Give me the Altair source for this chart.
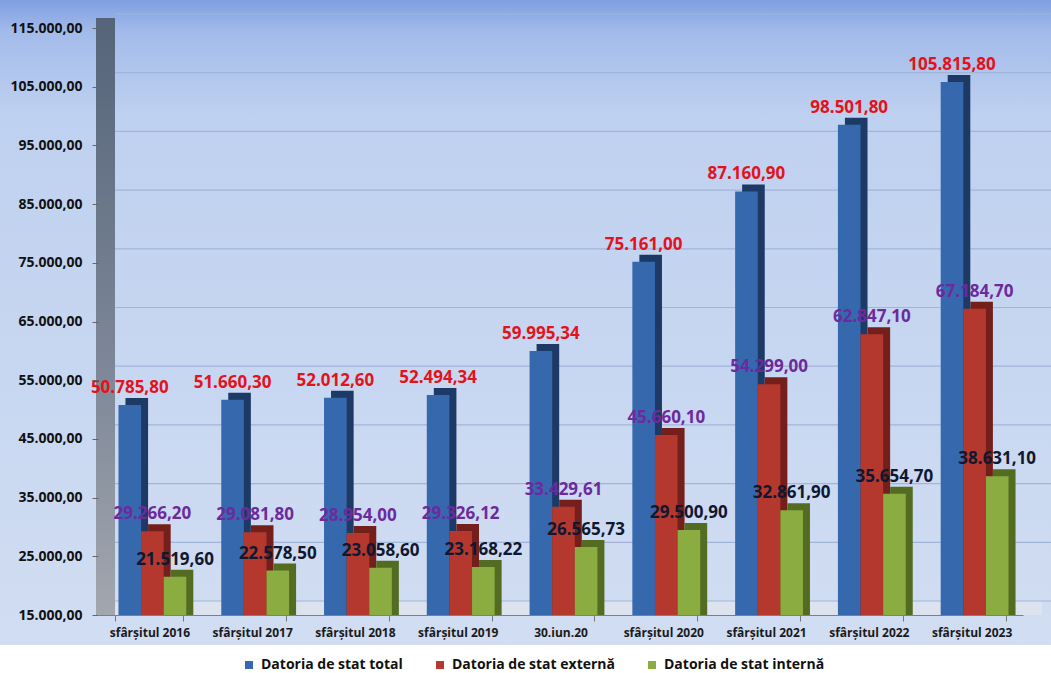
import altair as alt
import pandas as pd

# ---------------- data ----------------
categories = ["sfârșitul 2016", "sfârșitul 2017", "sfârșitul 2018", "sfârșitul 2019",
              "30.iun.20", "sfârșitul 2020", "sfârșitul 2021", "sfârșitul 2022", "sfârșitul 2023"]
series_names = ["Datoria de stat total", "Datoria de stat externă", "Datoria de stat internă"]
total = [50785.80, 51660.30, 52012.60, 52494.34, 59995.34, 75161.00, 87160.90, 98501.80, 105815.80]
external = [29266.20, 29081.80, 28954.00, 29326.12, 33429.61, 45660.10, 54299.00, 62847.10, 67184.70]
internal = [21519.60, 22578.50, 23058.60, 23168.22, 26565.73, 29500.90, 32861.90, 35654.70, 38631.10]
y_ticks = [15000, 25000, 35000, 45000, 55000, 65000, 75000, 85000, 95000, 105000, 115000]

# ---------------- style ----------------
front_colors = ["#3668ae", "#b5382f", "#8aac40"]
side_colors = ["#1d3a66", "#741f1b", "#536c21"]
label_colors = ["#e3121b", "#6d2a9e", "#0f1830"]
FONT = "Open Sans"

W, H = 925, 587
PL, PT, PR, PB = 98, 28, 28, 58
PAD_IN, PAD_OUT = 0.34, 0.17
DEPTH = 7
SHIFT = 3

rows = []
for i, c in enumerate(categories):
    for s, vals in zip(series_names, [total, external, internal]):
        rows.append({"cat": c, "series": s, "value": vals[i]})
df = pd.DataFrame(rows)
one = pd.DataFrame({"k": [0]})
ticks_df = pd.DataFrame({"v": y_ticks})

step = W / (len(categories) - PAD_IN + 2 * PAD_OUT)
band = step * (1 - PAD_IN)

x_scale = alt.Scale(type="band", domain=categories, paddingInner=PAD_IN, paddingOuter=PAD_OUT)
y_scale = alt.Scale(domain=[15000, 115000], zero=False, nice=False)
front_off = alt.Scale(type="band", domain=series_names, range=[SHIFT, SHIFT + band],
                      paddingInner=0, paddingOuter=0)
side_off = alt.Scale(type="band", domain=series_names, range=[SHIFT + DEPTH, SHIFT + DEPTH + band],
                     paddingInner=0, paddingOuter=0)

x_axis = alt.Axis(title=None, labelAngle=0, labelFont=FONT, labelFontSize=12, labelFontWeight="bold",
                  labelColor="#1a1a1a", tickBand="extent", tickSize=6, tickColor="#777777",
                  domainColor="#7f7f7f", labelPadding=6, grid=False, zindex=2)
y_axis = alt.Axis(title=None, values=y_ticks, format=",.2f", labelFont=FONT, labelFontSize=14,
                  labelFontWeight="bold", labelColor="#111111", tickSize=6, tickColor="#666666",
                  domain=False, grid=False, labelPadding=10, zindex=2)

# every layer carries the same axis definition, so the shared axes merge cleanly
x_enc = alt.X("cat:N", scale=x_scale, axis=x_axis)
y_enc = alt.Y("value:Q", scale=y_scale, axis=y_axis)
y_tick_enc = alt.Y("v:Q", scale=y_scale, axis=y_axis)

bg_grad = alt.LinearGradient(gradient="linear", x1=0, x2=0, y1=0, y2=1, stops=[
    alt.GradientStop(offset=0, color="#7f9fe0"),
    alt.GradientStop(offset=0.05, color="#a3bbea"),
    alt.GradientStop(offset=0.18, color="#bfd1f0"),
    alt.GradientStop(offset=1, color="#d1ddf2"),
])
wall_grad = alt.LinearGradient(gradient="linear", x1=0, x2=0, y1=0, y2=1, stops=[
    alt.GradientStop(offset=0, color="#55647a"),
    alt.GradientStop(offset=0.6, color="#7e8898"),
    alt.GradientStop(offset=1, color="#a2a7af"),
])

bg = alt.Chart(one).mark_rect(color=bg_grad).encode(
    x=alt.value(-PL), x2=alt.value(W + PR), y=alt.value(-PT), y2=alt.value(H + 30))
floor = alt.Chart(one).mark_rect(color="#dde3ee").encode(
    x=alt.value(-2), x2=alt.value(W + 19), y=alt.value(H - 14), y2=alt.value(H))
wall = alt.Chart(one).mark_rect(color=wall_grad).encode(
    x=alt.value(-2), x2=alt.value(17), y=alt.value(-10), y2=alt.value(H))

grid = alt.Chart(ticks_df).mark_rule(color="#a2b5d8", strokeWidth=1.2, yOffset=-14).encode(
    y=y_tick_enc, x=alt.value(17), x2=alt.value(W + PR))

depth = alt.Chart(df).mark_bar(yOffset=-DEPTH).encode(
    x=x_enc,
    xOffset=alt.XOffset("series:N", scale=side_off),
    y=y_enc,
    y2=alt.datum(15000),
    color=alt.Color("series:N", scale=alt.Scale(domain=series_names, range=side_colors), legend=None),
)

front = alt.Chart(df).mark_bar().encode(
    x=x_enc,
    xOffset=alt.XOffset("series:N", scale=front_off),
    y=y_enc,
    y2=alt.datum(15000),
    color=alt.Color("series:N", scale=alt.Scale(domain=series_names, range=front_colors),
                    legend=alt.Legend(orient="none", legendX=144, legendY=630, direction="horizontal",
                                      title=None, symbolType="square", symbolSize=64,
                                      symbolStrokeWidth=0, labelFont=FONT, labelFontSize=14,
                                      labelFontWeight="bold", labelColor="#111111", labelLimit=400,
                                      columnPadding=30, padding=0, labelOffset=5, zindex=2)),
)

texts = []
for s, col in zip(series_names, label_colors):
    texts.append(
        alt.Chart(df).transform_filter(alt.datum.series == s).mark_text(
            dy=-12, baseline="alphabetic", align="center", font=FONT, fontSize=17,
            fontWeight="bold", color=col).encode(
            x=x_enc,
            xOffset=alt.XOffset("series:N", scale=front_off),
            y=y_enc,
            text=alt.Text("value:Q", format=",.2f"),
        )
    )

chart = alt.layer(bg, floor, wall, grid, depth, front, *texts).resolve_scale(
    color="independent", xOffset="independent"
).properties(
    width=W, height=H,
    autosize=alt.AutoSizeParams(type="none"),
    padding={"left": PL, "top": PT, "right": PR, "bottom": PB},
    background="white",
).configure(
    locale=alt.Locale(number=alt.NumberLocale(decimal=",", thousands=".", grouping=[3], currency=["", ""]))
).configure_view(stroke=None)

chart.save("out.html", embed_options={"renderer": "svg", "actions": False})
